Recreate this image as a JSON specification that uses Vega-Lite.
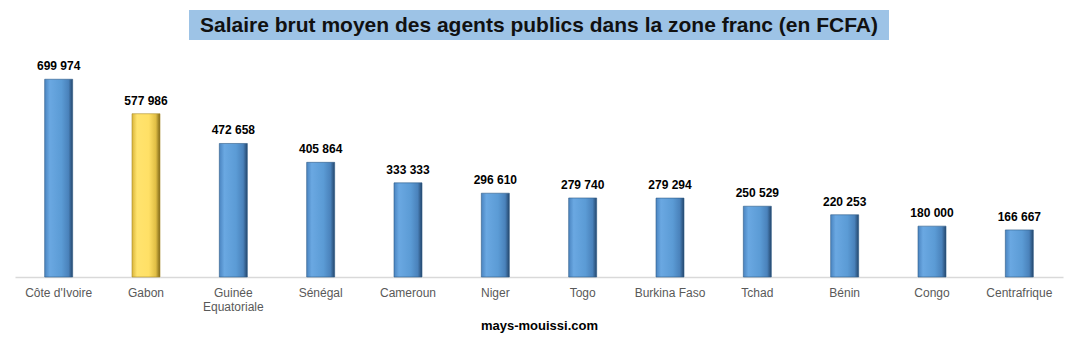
{
  "$schema": "https://vega.github.io/schema/vega-lite/v6.json",
  "padding": {"left": 15, "top": 10, "right": 14, "bottom": 14},
  "background": "white",
  "spacing": 11,
  "center": true,
  "config": {
    "font": "Liberation Sans",
    "locale": {"number": {"decimal": ",", "thousands": " ", "grouping": [3], "currency": ["", " FCFA"]}},
    "view": {"stroke": null}
  },
  "vconcat": [
    {
      "width": 700,
      "height": 30,
      "view": {"fill": "#9dc3e6", "stroke": null},
      "data": {"values": [{"titre": "Salaire brut moyen des agents publics dans la zone franc (en FCFA)"}]},
      "mark": {"type": "text", "fontSize": 21, "fontWeight": "bold", "color": "#111111", "baseline": "middle", "align": "center", "dy": 1},
      "encoding": {
        "x": {"field": "titre", "type": "nominal", "axis": null},
        "y": {"field": "titre", "type": "nominal", "axis": null},
        "text": {"field": "titre"}
      }
    },
    {
      "width": 1048,
      "height": 226,
      "data": {"values": [
        {"pays": "Côte d'Ivoire", "salaire": 699974},
        {"pays": "Gabon", "salaire": 577986},
        {"pays": "Guinée Equatoriale", "salaire": 472658},
        {"pays": "Sénégal", "salaire": 405864},
        {"pays": "Cameroun", "salaire": 333333},
        {"pays": "Niger", "salaire": 296610},
        {"pays": "Togo", "salaire": 279740},
        {"pays": "Burkina Faso", "salaire": 279294},
        {"pays": "Tchad", "salaire": 250529},
        {"pays": "Bénin", "salaire": 220253},
        {"pays": "Congo", "salaire": 180000},
        {"pays": "Centrafrique", "salaire": 166667}
      ]},
      "encoding": {
        "x": {
          "field": "pays", "type": "nominal", "sort": null,
          "scale": {"paddingInner": 0, "paddingOuter": 0},
          "axis": {
            "title": "mays-mouissi.com",
            "titleFontWeight": "bold",
            "titleFontSize": 13,
            "titleColor": "#000000",
            "titlePadding": 7,
            "labelAngle": 0,
            "labelFontSize": 12,
            "labelColor": "#595959",
            "labelPadding": 10,
            "labelLineHeight": 14,
            "labelExpr": "datum.label == 'Guinée Equatoriale' ? ['Guinée', 'Equatoriale'] : datum.label",
            "ticks": false,
            "domainColor": "#d9d9d9",
            "domainWidth": 1.5,
            "grid": false
          }
        },
        "y": {"field": "salaire", "type": "quantitative", "scale": {"domain": [0, 800000]}, "axis": null}
      },
      "layer": [
        {
          "mark": {"type": "bar", "width": 28, "strokeWidth": 0.6},
          "encoding": {
            "fill": {
              "condition": {
                "test": "datum.pays === 'Gabon'",
                "value": {"gradient": "linear", "x1": 0, "x2": 1, "y1": 0, "y2": 0,
                  "stops": [
                    {"offset": 0, "color": "#d9b43a"},
                    {"offset": 0.18, "color": "#ffe36e"},
                    {"offset": 0.6, "color": "#ffe066"},
                    {"offset": 0.85, "color": "#e0be45"},
                    {"offset": 1, "color": "#7d6618"}
                  ]}
              },
              "value": {"gradient": "linear", "x1": 0, "x2": 1, "y1": 0, "y2": 0,
                "stops": [
                  {"offset": 0, "color": "#4a84c0"},
                  {"offset": 0.18, "color": "#6aa8e2"},
                  {"offset": 0.6, "color": "#5b9bd5"},
                  {"offset": 0.85, "color": "#4a82bb"},
                  {"offset": 1, "color": "#24466c"}
                ]}
            },
            "stroke": {"condition": {"test": "datum.pays === 'Gabon'", "value": "#a88a2a"}, "value": "#2e5a86"}
          }
        },
        {
          "mark": {"type": "text", "baseline": "bottom", "dy": -6, "fontSize": 12, "fontWeight": "bold", "color": "#000000"},
          "encoding": {"text": {"field": "salaire", "type": "quantitative", "format": ",d"}}
        }
      ]
    }
  ]
}
